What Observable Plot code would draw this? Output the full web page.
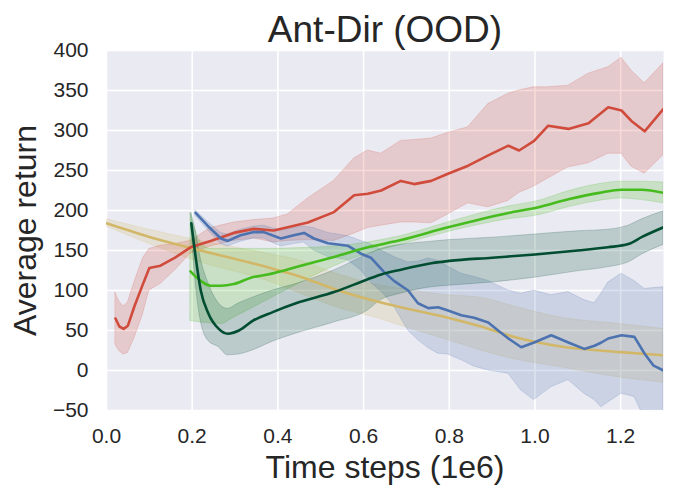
<!DOCTYPE html>
<html>
<head>
<meta charset="utf-8">
<script src="https://cdn.jsdelivr.net/npm/d3@7"></script>
<script src="https://cdn.jsdelivr.net/npm/@observablehq/plot@0.6"></script>
<style>
  html, body { margin: 0; padding: 0; background: #ffffff; }
  #chart { width: 681px; height: 497px; }
</style>
</head>
<body>
<div id="chart"></div>
<script>
// ---- Data (time steps in 1e6, average return) ----
const title = "Ant-Dir (OOD)";
const xLabel = "Time steps (1e6)";
const yLabel = "Average return";
const xTicks = [0.0, 0.2, 0.4, 0.6, 0.8, 1.0, 1.2];
const yTicks = [-50, 0, 50, 100, 150, 200, 250, 300, 350, 400];

// red series
const redX    = [0.021, 0.030, 0.040, 0.050, 0.065, 0.085, 0.100, 0.126, 0.160, 0.196, 0.243, 0.297, 0.344, 0.390, 0.423, 0.470, 0.531, 0.578, 0.610, 0.641, 0.687, 0.718, 0.758, 0.797, 0.844, 0.891, 0.938, 0.963, 0.998, 1.031, 1.078, 1.125, 1.171, 1.202, 1.225, 1.256, 1.300];
const redMean = [65, 55, 52, 56, 80, 108, 128, 131, 141, 154, 162, 172, 177, 175, 179, 185, 198, 219, 221, 225, 237, 233, 237, 246, 256, 269, 281, 275, 287, 306, 302, 309, 329, 325, 312, 299, 327];
const redLo   = [32, 24, 20, 22, 40, 70, 100, 108, 125, 146, 155, 162, 165, 160, 162, 163, 162, 171, 178, 181, 185, 185, 184, 195, 209, 204, 212, 222, 230, 240, 254, 259, 271, 271, 255, 246, 269];
const redHi   = [97, 86, 80, 85, 110, 140, 152, 156, 158, 162, 178, 185, 188, 190, 195, 215, 237, 265, 275, 271, 287, 288, 290, 297, 304, 333, 346, 350, 354, 354, 356, 371, 379, 391, 375, 359, 384];

// blue series
const blueX    = [0.208, 0.236, 0.267, 0.283, 0.313, 0.344, 0.367, 0.407, 0.437, 0.461, 0.484, 0.517, 0.563, 0.594, 0.617, 0.648, 0.671, 0.704, 0.727, 0.751, 0.774, 0.797, 0.828, 0.858, 0.891, 0.914, 0.938, 0.968, 0.998, 1.038, 1.078, 1.115, 1.139, 1.155, 1.171, 1.202, 1.232, 1.256, 1.277, 1.300];
const blueMean = [197, 181, 165, 162, 169, 173, 173, 165, 169, 172, 165, 159, 156, 146, 141, 123, 112, 100, 84, 78, 79, 75, 69, 66, 60, 50, 40, 29, 35, 44, 35, 27, 31, 35, 40, 44, 42, 21, 6, 0];
const blueLo   = [193, 176, 158, 155, 161, 165, 165, 155, 158, 160, 150, 142, 138, 125, 110, 95, 80, 50, 38, 28, 21, 20, 13, 5, 0, -2, -4, -25, -37, -21, -12, -29, -37, -46, -40, -29, -33, -60, -70, -75];
const blueHi   = [200, 186, 172, 170, 176, 180, 181, 175, 178, 180, 178, 172, 168, 162, 158, 148, 142, 135, 136, 140, 137, 130, 121, 117, 112, 106, 100, 96, 100, 94, 98, 88, 84, 96, 110, 121, 112, 102, 103, 104];

// light green series
const lgreenX    = [0.196, 0.220, 0.243, 0.267, 0.297, 0.337, 0.376, 0.454, 0.531, 0.610, 0.687, 0.797, 0.938, 1.008, 1.078, 1.150, 1.202, 1.249, 1.300];
const lgreenMean = [124, 112, 106, 106, 108, 116, 120, 131, 142, 154, 163, 179, 197, 204, 214, 222, 226, 226, 222];
const lgreenLo   = [62, 60, 59, 58, 66, 77, 88, 110, 130, 146, 157, 173, 189, 194, 204, 212, 215, 213, 209];
const lgreenHi   = [196, 160, 152, 152, 152, 152, 152, 153, 155, 160, 168, 185, 205, 212, 224, 233, 236, 236, 235];

// dark green series
const dgreenX    = [0.198, 0.208, 0.220, 0.238, 0.262, 0.283, 0.309, 0.341, 0.388, 0.442, 0.531, 0.610, 0.641, 0.687, 0.758, 0.800, 0.900, 1.000, 1.100, 1.170, 1.218, 1.250, 1.300];
const dgreenMean = [184, 142, 100, 71, 52, 46, 50, 62, 73, 84, 98, 114, 120, 126, 134, 137, 141, 145, 150, 154, 158, 167, 179];
const dgreenLo   = [178, 110, 62, 37, 29, 19, 20, 25, 36, 46, 60, 75, 88, 96, 104, 106, 110, 116, 124, 129, 135, 145, 157];
const dgreenHi   = [197, 175, 140, 109, 84, 77, 84, 91, 100, 108, 125, 145, 152, 157, 161, 163, 166, 170, 174, 176, 181, 189, 199];

// yellow series
const yellowX    = [0.000, 0.100, 0.220, 0.376, 0.454, 0.531, 0.641, 0.687, 0.797, 0.874, 0.952, 1.061, 1.200, 1.300];
const yellowMean = [184, 167, 150, 129, 117, 102, 85, 79, 66, 55, 42, 30, 23, 19];
const yellowLo   = [180, 158, 135, 112, 96, 80, 64, 56, 38, 25, 14, 4, -9, -15];
const yellowHi   = [189, 176, 162, 146, 137, 122, 106, 102, 94, 91, 80, 66, 58, 52];

const seriesDefs = [
  {name: "yellow", color: "#d2b768", X: yellowX, M: yellowMean, L: yellowLo, H: yellowHi},
  {name: "red",    color: "#d04b3b", X: redX,    M: redMean,    L: redLo,    H: redHi},
  {name: "blue",   color: "#4c72b0", X: blueX,   M: blueMean,   L: blueLo,   H: blueHi},
  {name: "lgreen", color: "#46bb1e", X: lgreenX, M: lgreenMean, L: lgreenLo, H: lgreenHi},
  {name: "dgreen", color: "#004d32", X: dgreenX, M: dgreenMean, L: dgreenLo, H: dgreenHi}
];

const rows = s => s.X.map((x, i) => ({x, m: s.M[i], lo: s.L[i], hi: s.H[i]}));
const smooth = {yellow: "monotone-x", lgreen: "monotone-x", dgreen: "monotone-x", red: "linear", blue: "linear"};

const marks = [
  Plot.frame({fill: "#eaeaf2", stroke: null}),
  Plot.gridX(xTicks, {stroke: "#ffffff", strokeOpacity: 1, strokeWidth: 1.6}),
  Plot.gridY(yTicks, {stroke: "#ffffff", strokeOpacity: 1, strokeWidth: 1.6})
];
for (const s of seriesDefs) {
  const data = rows(s);
  marks.push(Plot.areaY(data, {x: "x", y1: "lo", y2: "hi", fill: s.color, fillOpacity: 0.2,
    stroke: s.color, strokeOpacity: 0.2, strokeWidth: 1, curve: smooth[s.name], clip: true}));
}
for (const s of seriesDefs) {
  const data = rows(s);
  marks.push(Plot.lineY(data, {x: "x", y: "m", stroke: s.color, strokeWidth: 2.6, curve: smooth[s.name], clip: true}));
}
marks.push(
  Plot.axisX(xTicks, {tickSize: 0, tickPadding: 18, fontSize: 21, label: null, tickFormat: d => d.toFixed(1)}),
  Plot.axisY(yTicks, {tickSize: 0, tickPadding: 18, fontSize: 21, label: null}),
  Plot.text([title], {frameAnchor: "top", dy: -9, lineAnchor: "bottom", fontSize: 37, fill: "#262626"}),
  Plot.text([xLabel], {frameAnchor: "bottom", dy: 67, lineAnchor: "bottom", fontSize: 32, fill: "#262626"}),
  Plot.text([yLabel], {frameAnchor: "left", dx: -71, rotate: -90, textAnchor: "middle", lineAnchor: "bottom", fontSize: 32, fill: "#262626"})
);

const chart = Plot.plot({
  width: 681,
  height: 497,
  marginLeft: 106,
  marginRight: 18,
  marginTop: 50,
  marginBottom: 87,
  x: {domain: [0, 1.3]},
  y: {domain: [-50, 400]},
  style: {fontFamily: "'Liberation Sans', Arial, sans-serif", color: "#262626", background: "#ffffff", overflow: "visible"},
  marks
});
document.getElementById("chart").appendChild(chart);
</script>
</body>
</html>
